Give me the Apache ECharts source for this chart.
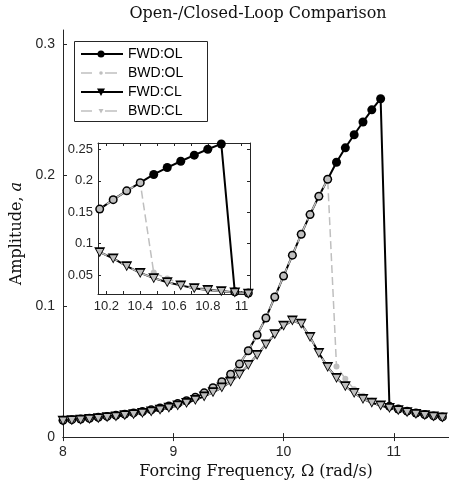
<!DOCTYPE html>
<html><head><meta charset="utf-8">
<script src="https://cdn.jsdelivr.net/npm/echarts@6/dist/echarts.min.js"></script>
<style>html,body{margin:0;padding:0;background:#fff}#c{width:449px;height:485px}</style>
</head><body><div id="c"></div>
<script>
// Forcing frequency grid (rad/s)
const freq = [8.00,8.08,8.16,8.24,8.32,8.40,8.48,8.56,8.64,8.72,8.80,8.88,8.96,9.04,9.12,9.20,9.28,9.36,9.44,9.52,
  9.60,9.68,9.76,9.84,9.92,10.00,10.08,10.16,10.24,10.32,10.40,10.48,10.56,10.64,10.72,10.80,10.88,10.96,11.04,11.12,
  11.20,11.28,11.36,11.44];
// Open-loop upper (resonant) branch, freq[0]..freq[36]
const olUpper = [0.0128,0.0133,0.0138,0.0144,0.0151,0.0158,0.0166,0.0175,0.0185,0.0196,0.0208,0.0222,0.0238,0.0256,
  0.0278,0.0305,0.0338,0.0377,0.0423,0.0480,0.0558,0.0660,0.0780,0.0910,0.1070,0.1230,0.1390,0.1550,0.1700,0.1840,
  0.1970,0.2100,0.2210,0.2310,0.2407,0.2500,0.2585];
// Open-loop lower branch, freq[31]..freq[43]
const olLower = [0.0540,0.0445,0.0365,0.0315,0.0280,0.0255,0.0235,0.0214,0.0198,0.0184,0.0172,0.0162,0.0154];
// Closed-loop response, freq[0]..freq[43]
const cl = [0.0124,0.0128,0.0133,0.0138,0.0144,0.0151,0.0158,0.0166,0.0175,0.0185,
  0.0196,0.0209,0.0224,0.0241,0.0261,0.0284,0.0311,0.0342,0.0378,0.0423,
  0.0478,0.0550,0.0628,0.0708,0.0785,0.0850,0.0890,0.0865,0.0765,0.0642,
  0.0535,0.0452,0.0388,0.0337,0.0292,0.0262,0.0242,0.0222,0.0205,0.0190,
  0.0177,0.0167,0.0158,0.0150];
const seriesNames = ['FWD:OL','BWD:OL','FWD:CL','BWD:CL'];
const mainXTicks = [8,9,10,11];
const mainYTicks = [0,0.1,0.2,0.3];
const insetXLabels = [10.2,10.4,10.6,10.8,11];
const insetXTicks = [10.2,10.3,10.4,10.5,10.6,10.7,10.8,10.9,11.0];
const insetYTicks = [0.05,0.1,0.15,0.2,0.25];
const titleText = 'Open-/Closed-Loop Comparison';
const xTitle = 'Forcing Frequency, \u03A9 (rad/s)';

const LOW0 = 31, JUMP_UP = 36;
const fwdOL = [];
for (let i = 0; i < freq.length; i++) fwdOL.push([freq[i], i <= JUMP_UP ? olUpper[i] : olLower[i - LOW0]]);
const bwdOL = [];
for (let i = freq.length - 1; i >= 0; i--) bwdOL.push([freq[i], i >= LOW0 ? olLower[i - LOW0] : olUpper[i]]);
const fwdCL = freq.map((f, i) => [f, cl[i]]);
const bwdCL = fwdCL.slice().reverse();

const GRAY = '#bfbfbf', AX = '#262626';
const fmt = v => String(+(+v).toFixed(2));

function mk(g) {
  const base = {type:'line', xAxisIndex:g*2, yAxisIndex:g*2, showSymbol:true, showAllSymbol:true,
    animation:false, silent:true, clip:true};
  return [
    Object.assign({}, base, {name:seriesNames[0], data:fwdOL, symbol:'circle', symbolSize:9,
      itemStyle:{color:'#000'}, lineStyle:{color:'#000', width:2}}),
    Object.assign({}, base, {name:seriesNames[1], data:bwdOL, symbol:'circle', symbolSize:6,
      itemStyle:{color:GRAY}, lineStyle:{color:GRAY, width:1.5, type:[8,4]}}),
    Object.assign({}, base, {name:seriesNames[2], data:fwdCL, symbol:'triangle', symbolRotate:180, symbolSize:[11,10],
      itemStyle:{color:'#000'}, lineStyle:{color:'#000', width:2}}),
    Object.assign({}, base, {name:seriesNames[3], data:bwdCL, symbol:'triangle', symbolRotate:180, symbolSize:[7,6.5],
      itemStyle:{color:GRAY}, lineStyle:{color:GRAY, width:1.5, type:[8,4]}})
  ];
}

const lab = (size) => ({color:AX, fontSize:size, fontFamily:'"Liberation Sans", Arial, sans-serif'});
const line = {show:true, lineStyle:{color:AX, width:1}};

const option = {
  backgroundColor:'#fff',
  animation:false,
  grid:[
    {left:63, top:30, width:390, height:408},
    {left:98, top:143, width:152, height:151, show:true, backgroundColor:'#fff', borderWidth:0, z:3}
  ],
  xAxis:[
    {gridIndex:0, type:'value', min:8, max:11.5, interval:1, position:'bottom', axisLine:line,
      axisTick:{inside:true, length:4, lineStyle:{color:AX}},
      axisLabel:Object.assign(lab(14), {margin:8, showMaxLabel:false, formatter:fmt}), splitLine:{show:false},
      name:xTitle, nameLocation:'middle', nameGap:21,
      nameTextStyle:{fontFamily:'"DejaVu Serif", serif', fontSize:16, color:'#111'}},
    {gridIndex:0, type:'value', min:8, max:11.5, interval:1, position:'top', axisLine:line,
      axisTick:{inside:true, length:4, lineStyle:{color:AX}}, axisLabel:{show:false}, splitLine:{show:false}},
    {gridIndex:1, type:'value', min:10.15, max:11.05, position:'bottom', axisLine:line, z:4,
      axisTick:{inside:true, length:3, customValues:insetXTicks, lineStyle:{color:AX}},
      axisLabel:Object.assign(lab(13), {margin:6, customValues:insetXLabels, formatter:fmt}), splitLine:{show:false}},
    {gridIndex:1, type:'value', min:10.15, max:11.05, position:'top', axisLine:line, z:4,
      axisTick:{inside:true, length:3, customValues:insetXTicks, lineStyle:{color:AX}},
      axisLabel:{show:false}, splitLine:{show:false}}
  ],
  yAxis:[
    {gridIndex:0, type:'value', min:0, max:0.311, interval:0.1, position:'left', axisLine:line,
      axisTick:{inside:true, length:4, lineStyle:{color:AX}},
      axisLabel:Object.assign(lab(14), {margin:8, showMaxLabel:false, formatter:fmt}), splitLine:{show:false},
      name:'Amplitude, {i|a}', nameLocation:'middle', nameGap:36, nameRotate:90,
      nameTextStyle:{fontFamily:'"DejaVu Serif", serif', fontSize:16, color:'#111',
        rich:{i:{fontFamily:'"DejaVu Serif", serif', fontSize:16, fontStyle:'italic', color:'#111'}}}},
    {gridIndex:0, type:'value', min:0, max:0.311, interval:0.1, position:'right', axisLine:line,
      axisTick:{show:false}, axisLabel:{show:false}, splitLine:{show:false}},
    {gridIndex:1, type:'value', min:0.02, max:0.26, position:'left', axisLine:line, z:4,
      axisTick:{inside:true, length:3, customValues:insetYTicks, lineStyle:{color:AX}},
      axisLabel:Object.assign(lab(13), {margin:5, customValues:insetYTicks, formatter:fmt}), splitLine:{show:false}},
    {gridIndex:1, type:'value', min:0.02, max:0.26, position:'right', axisLine:line, z:4,
      axisTick:{inside:true, length:3, customValues:insetYTicks, lineStyle:{color:AX}},
      axisLabel:{show:false}, splitLine:{show:false}}
  ],
  series: mk(0).concat(mk(1).map(s => Object.assign(s, {z:5}))),
  graphic:[
    {type:'text', x:258, y:14, silent:true,
      style:{text:titleText, fill:'#111', font:'16px "DejaVu Serif", serif', align:'center', verticalAlign:'middle'}},
    {type:'group', z:10, children:[
      {type:'rect', shape:{x:74.5, y:41.5, width:133, height:80}, style:{fill:'#fff', stroke:AX, lineWidth:1}},
      {type:'line', shape:{x1:81, y1:54, x2:123, y2:54}, style:{stroke:'#000', lineWidth:2}},
      {type:'circle', shape:{cx:101, cy:54, r:3.5}, style:{fill:'#000'}},
      {type:'line', shape:{x1:81, y1:73, x2:92, y2:73}, style:{stroke:GRAY, lineWidth:1.5}},
      {type:'line', shape:{x1:105, y1:73, x2:117, y2:73}, style:{stroke:GRAY, lineWidth:1.5}},
      {type:'circle', shape:{cx:101, cy:73, r:1.8}, style:{fill:GRAY}},
      {type:'line', shape:{x1:81, y1:92, x2:123, y2:92}, style:{stroke:'#000', lineWidth:2}},
      {type:'polygon', shape:{points:[[97,88.5],[105,88.5],[101,96]]}, style:{fill:'#000'}},
      {type:'line', shape:{x1:81, y1:111, x2:92, y2:111}, style:{stroke:GRAY, lineWidth:1.5}},
      {type:'line', shape:{x1:105, y1:111, x2:117, y2:111}, style:{stroke:GRAY, lineWidth:1.5}},
      {type:'polygon', shape:{points:[[98.5,109],[103.5,109],[101,113.5]]}, style:{fill:GRAY}},
      {type:'text', x:128, y:54, style:{text:seriesNames[0], fill:'#000', font:'14px "Liberation Sans", Arial, sans-serif', align:'left', verticalAlign:'middle'}},
      {type:'text', x:128, y:73, style:{text:seriesNames[1], fill:'#000', font:'14px "Liberation Sans", Arial, sans-serif', align:'left', verticalAlign:'middle'}},
      {type:'text', x:128, y:92, style:{text:seriesNames[2], fill:'#000', font:'14px "Liberation Sans", Arial, sans-serif', align:'left', verticalAlign:'middle'}},
      {type:'text', x:128, y:111, style:{text:seriesNames[3], fill:'#000', font:'14px "Liberation Sans", Arial, sans-serif', align:'left', verticalAlign:'middle'}}
    ]}
  ]
};
const chart = echarts.init(document.getElementById('c'), null, {renderer:'canvas'});
chart.setOption(option);
</script>
</body></html>
